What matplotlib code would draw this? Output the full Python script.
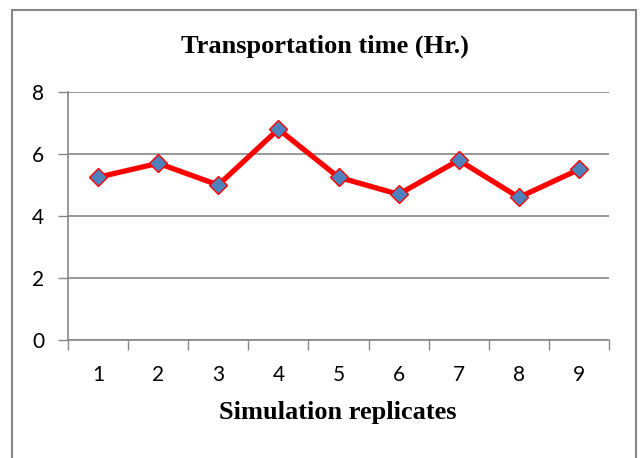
import numpy as np
import matplotlib.pyplot as plt
from matplotlib.patches import Rectangle

replicates = [1, 2, 3, 4, 5, 6, 7, 8, 9]
transport_time = [5.25, 5.7, 5.0, 6.8, 5.25, 4.7, 5.8, 4.6, 5.5]
y_ticks = [0, 2, 4, 6, 8]

W, H = 640, 458
fig = plt.figure(figsize=(W / 100, H / 100), dpi=100)
ax = fig.add_axes([68 / W, 1 - 340 / H, (609 - 68) / W, (340 - 92) / H])

grey = '#868686'
ax.plot(replicates, transport_time, color='#ff0000', lw=3.8, marker='D',
        ms=9.5, mfc='#4f81bd', mec='#ff0000', mew=1.0, zorder=3)

ax.set_xlim(0.5, 9.5)
ax.set_ylim(0, 8)
ax.set_yticks(y_ticks)
ax.yaxis.grid(True, color=grey, lw=1.2)
ax.set_axisbelow(True)

# ticks sit between categories, labels at centres
ax.set_xticks(np.arange(0.5, 10, 1))
ax.set_xticklabels([])
ax.set_xticks(replicates, minor=True)
ax.set_xticklabels([str(r) for r in replicates], minor=True)
ax.tick_params(axis='x', which='major', length=7, color=grey, width=1)
ax.tick_params(axis='x', which='minor', length=0, pad=18)
ax.tick_params(axis='y', length=7, color=grey, width=1, pad=10)
for lab in ax.get_xticklabels(minor=True) + ax.get_yticklabels():
    lab.set_family(['Lato', 'DejaVu Sans'])
    lab.set_fontsize(15)

for s in ['top', 'right']:
    ax.spines[s].set_visible(False)
for s in ['left', 'bottom']:
    ax.spines[s].set_color(grey)
    ax.spines[s].set_linewidth(1.2)

serif = ['Liberation Serif', 'DejaVu Serif']
fig.text(325 / W, 1 - 46 / H, 'Transportation time (Hr.)', ha='center', va='center',
         fontsize=19, fontweight='bold', family=serif)
fig.text(338 / W, 1 - 412 / H, 'Simulation replicates', ha='center', va='center',
         fontsize=19, fontweight='bold', family=serif)

fig.patches.append(Rectangle((12 / W, -0.05), (636 - 12) / W, 1.05 - 10 / H,
                             transform=fig.transFigure, fill=False,
                             edgecolor=grey, lw=1.5))

fig.savefig('out.png', dpi=100)
